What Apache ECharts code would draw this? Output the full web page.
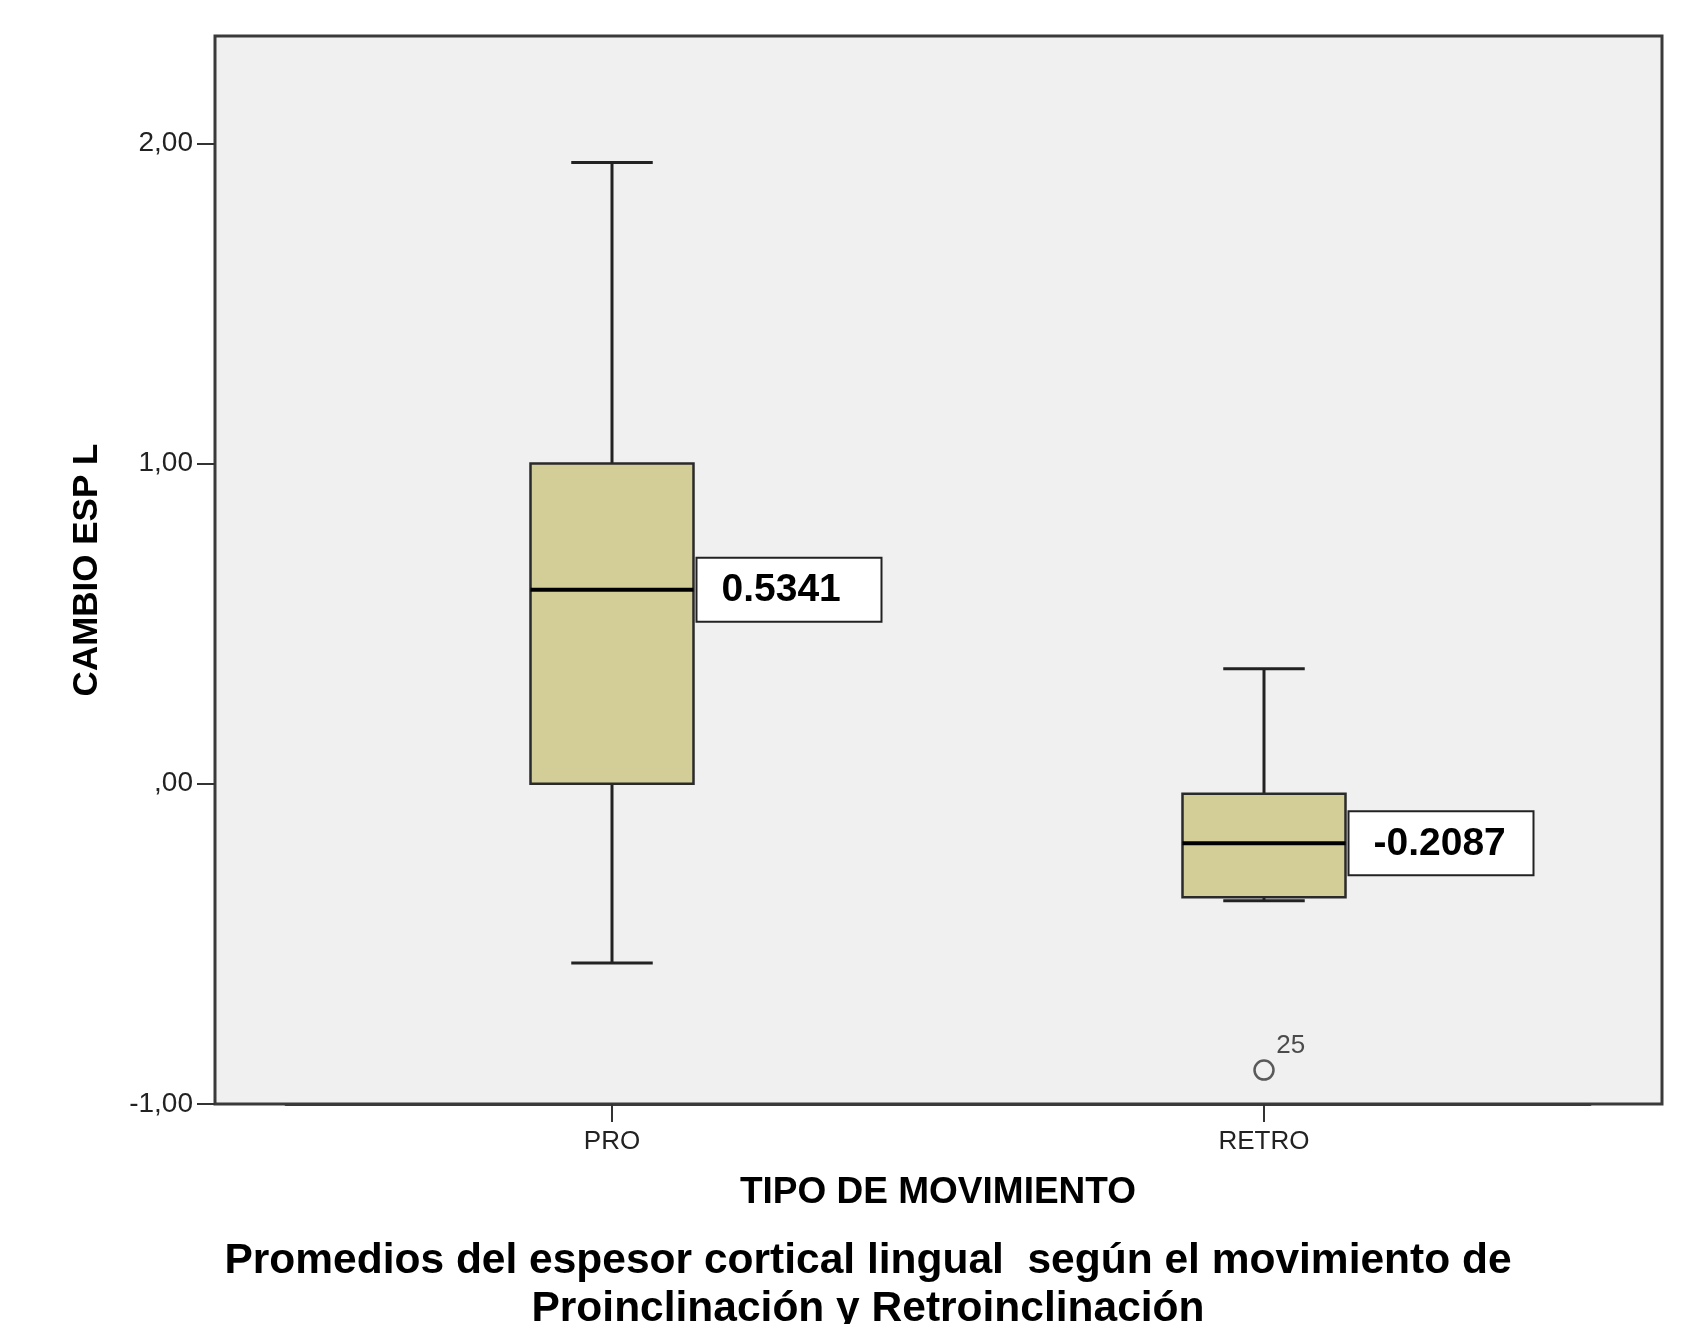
<!DOCTYPE html>
<html>
<head>
<meta charset="utf-8">
<script src="https://cdn.jsdelivr.net/npm/echarts@6/dist/echarts.min.js"></script>
<style>
html,body{margin:0;padding:0;background:#fff;}
#chart{width:1684px;height:1324px;}
</style>
</head>
<body>
<div id="chart"></div>
<script>
// ---- data ----
const categories = ['PRO', 'RETRO'];
const whiskerLow  = [-0.56, -0.365];
const q1          = [0.00, -0.354];
const median      = [0.606, -0.186];
const q3          = [1.00, -0.031];
const whiskerHigh = [1.94, 0.359];
const means       = ['0.5341', '-0.2087'];
const outlierCat  = ['RETRO'];
const outlierVal  = [-0.894];
const outlierId   = ['25'];
const yTicks      = [-1, 0, 1, 2];
const yTickLabels = ['-1,00', ',00', '1,00', '2,00'];
const yMin = -1, yMax = 2.335;
const xTitle = 'TIPO DE MOVIMIENTO';
const yTitle = 'CAMBIO ESP L';
const caption = 'Promedios del espesor cortical lingual  según el movimiento de\nProinclinación y Retroinclinación';

const FONT = "'Liberation Sans', Arial, Helvetica, sans-serif";

const boxRows = categories.map((c, i) => [i, whiskerLow[i], q1[i], median[i], q3[i], whiskerHigh[i]]);
const outlierData = outlierCat.map((c, k) => ({ value: [categories.indexOf(c), outlierVal[k]], name: outlierId[k] }));

const chart = echarts.init(document.getElementById('chart'));
chart.setOption({
  animation: false,
  backgroundColor: '#ffffff',
  grid: [
    { left: 215, right: 22, top: 36, bottom: 220, show: true, backgroundColor: '#f0f0f0', borderColor: '#3a3a3a', borderWidth: 3 },
    { left: 286, right: 94, top: 36, bottom: 220, show: false }
  ],
  xAxis: [
    { gridIndex: 0, type: 'value', min: 0, max: 1, show: false },
    {
      gridIndex: 1, type: 'category', data: categories, boundaryGap: true, position: 'bottom',
      axisLine: { show: true, onZero: false, lineStyle: { color: '#3a3a3a', width: 3 } },
      axisTick: { show: true, alignWithLabel: true, length: 18, lineStyle: { color: '#333', width: 2 } },
      axisLabel: { color: '#222', fontSize: 26, fontFamily: FONT, margin: 25 },
      name: xTitle, nameLocation: 'middle', nameGap: 70,
      nameTextStyle: { color: '#000', fontSize: 37, fontWeight: 'bold', fontFamily: FONT }
    }
  ],
  yAxis: [
    {
      gridIndex: 0, type: 'value', min: yMin, max: yMax, interval: 1,
      splitLine: { show: false },
      axisLine: { show: false },
      axisTick: { show: true, length: 18, customValues: yTicks, lineStyle: { color: '#333', width: 2 } },
      axisLabel: {
        color: '#222', fontSize: 28, fontFamily: FONT, margin: 22, customValues: yTicks,
        formatter: v => { const k = yTicks.indexOf(Math.round(v * 1000) / 1000); return k >= 0 ? yTickLabels[k] : ''; }
      },
      name: yTitle, nameLocation: 'middle', nameGap: 110,
      nameTextStyle: { color: '#000', fontSize: 35, fontWeight: 'bold', fontFamily: FONT }
    },
    { gridIndex: 1, type: 'value', min: yMin, max: yMax, interval: 1, show: false, splitLine: { show: false } }
  ],
  series: [
    {
      type: 'custom', xAxisIndex: 1, yAxisIndex: 1, data: boxRows,
      encode: { x: 0, y: [1, 2, 3, 4, 5] },
      renderItem: function (params, api) {
        const i = api.value(0);
        const lo = api.coord([i, api.value(1)]);
        const a = api.coord([i, api.value(2)]);
        const m = api.coord([i, api.value(3)]);
        const b = api.coord([i, api.value(4)]);
        const hi = api.coord([i, api.value(5)]);
        const band = api.size([1, 0])[0];
        const bw = band * 0.25, cw = bw / 2;
        const x = m[0];
        const ln = { stroke: '#222', lineWidth: 3 };
        const lx = x + bw / 2 + 3;
        return {
          type: 'group',
          children: [
            { type: 'line', shape: { x1: x, y1: hi[1], x2: x, y2: b[1] }, style: ln },
            { type: 'line', shape: { x1: x, y1: a[1], x2: x, y2: lo[1] }, style: ln },
            { type: 'line', shape: { x1: x - cw / 2, y1: hi[1], x2: x + cw / 2, y2: hi[1] }, style: ln },
            { type: 'line', shape: { x1: x - cw / 2, y1: lo[1], x2: x + cw / 2, y2: lo[1] }, style: ln },
            { type: 'rect', shape: { x: x - bw / 2, y: b[1], width: bw, height: a[1] - b[1] },
              style: { fill: '#d3ce98', stroke: '#2a2a2a', lineWidth: 2.5 } },
            { type: 'line', shape: { x1: x - bw / 2, y1: m[1], x2: x + bw / 2, y2: m[1] }, style: { stroke: '#000', lineWidth: 4 } },
            { type: 'rect', shape: { x: lx, y: m[1] - 32, width: 185, height: 64 },
              style: { fill: '#ffffff', stroke: '#222', lineWidth: 2 } },
            { type: 'text', x: lx + 25, y: m[1] + 1,
              style: { text: means[i], fill: '#000', font: "bold 39px " + FONT, textAlign: 'left', textVerticalAlign: 'middle' } }
          ]
        };
      }
    },
    {
      type: 'scatter', xAxisIndex: 1, yAxisIndex: 1, data: outlierData,
      symbol: 'circle', symbolSize: 19,
      itemStyle: { color: '#f0f0f0', borderColor: '#333', borderWidth: 2.5 },
      label: { show: true, formatter: p => p.name, position: [23, -13], align: 'left', verticalAlign: 'middle',
               color: '#222', fontSize: 26, fontFamily: FONT }
    }
  ],
  graphic: [
    { type: 'text', x: 868, y: 1237,
      style: { text: caption, fill: '#000', font: "bold 42.5px " + FONT, textAlign: 'center', textVerticalAlign: 'top', lineHeight: 48 } }
  ]
});
</script>
</body>
</html>
